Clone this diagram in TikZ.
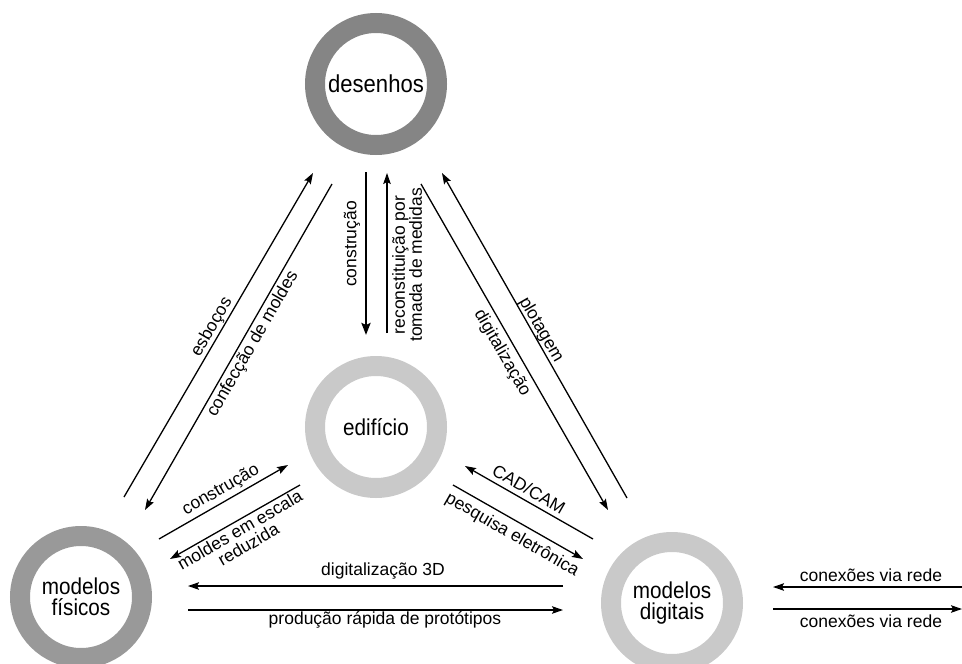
\documentclass[tikz,border=0pt]{standalone}
\usepackage{fontspec}
\setmainfont{Liberation Sans}
\newfontfamily\nodefont[FakeStretch=0.9]{Liberation Sans}
\usetikzlibrary{arrows.meta}
\definecolor{ringdark}{gray}{0.52}
\definecolor{ringmid}{gray}{0.60}
\definecolor{ringlight}{gray}{0.79}
\begin{document}
\begin{tikzpicture}[x=1pt,y=-1pt,
  ring/.style={circle, line width=20pt, minimum size=122pt, inner sep=0pt, align=center,
    font=\nodefont\fontsize{23}{21}\selectfont},
  arr/.style={line width=1.3pt, -{Stealth[length=11pt,width=7.5pt,inset=2pt]}},
  thickarr/.style={line width=2.6pt, -{Stealth[length=12pt,width=9pt,inset=2pt]}},
  lab/.style={font=\fontsize{17.5}{17}\selectfont, inner sep=0pt, align=center},
]
\useasboundingbox (0,0) rectangle (962,664);
% rings
\node[ring, draw=ringdark, font=\nodefont\fontsize{24.5}{22}\selectfont] (des) at (376,84) {desenhos};
\node[ring, draw=ringlight] (edi) at (376,427) {edifício};
\node[ring, draw=ringmid] (fis) at (81,597) {modelos\\físicos};
\node[ring, draw=ringlight] (dig) at (672,603) {modelos\\digitais};
% coordinates
\coordinate (esA) at (124,497); \coordinate (esB) at (313,173);
\coordinate (cmA) at (332,184); \coordinate (cmB) at (145,510);
\coordinate (coA) at (366,172); \coordinate (coB) at (366,335);
\coordinate (reA) at (387,333); \coordinate (reB) at (387,173);
\coordinate (plA) at (627,498); \coordinate (plB) at (442,173);
\coordinate (diA) at (421,184); \coordinate (diB) at (608,510);
\coordinate (c2A) at (159,539); \coordinate (c2B) at (288,465);
\coordinate (moA) at (300,485); \coordinate (moB) at (170,559);
\coordinate (caA) at (593,539); \coordinate (caB) at (465,466);
\coordinate (peA) at (453,485); \coordinate (peB) at (583,559);
\coordinate (d3A) at (563,586); \coordinate (d3B) at (188,586);
\coordinate (prA) at (188,610); \coordinate (prB) at (563,610);
\coordinate (n1A) at (962,587); \coordinate (n1B) at (773,587);
\coordinate (n2A) at (773,609); \coordinate (n2B) at (962,609);
% connectors
\draw[arr] (esA) -- (esB);
\draw[arr] (cmA) -- (cmB);
\draw[thickarr] (coA) -- (coB);
\draw[arr] (reA) -- (reB);
\draw[arr] (plA) -- (plB);
\draw[arr] (diA) -- (diB);
\draw[arr] (c2A) -- (c2B);
\draw[arr] (moA) -- (moB);
\draw[arr] (caA) -- (caB);
\draw[arr] (peA) -- (peB);
\draw[arr] (d3A) -- (d3B);
\draw[arr] (prA) -- (prB);
\draw[arr] (n1A) -- (n1B);
\draw[arr] (n2A) -- (n2B);
% labels
\node[lab, rotate=60] (l1) at (212,327) {esboços};
\node[lab, rotate=60] (l2) at (253,344) {confecção de moldes};
\node[lab, rotate=90] (l3) at (352,244) {construção};
\node[lab, rotate=90] (l4) at (407,265) {reconstituição por\\tomada de medidas};
\node[lab, rotate=-60] (l5) at (541,330) {plotagem};
\node[lab, rotate=-60] (l6) at (502,353) {digitalização};
\node[lab, rotate=30] (l7) at (221,490) {construção};
\node[lab, rotate=30] (l8) at (244,537) {moldes em escala\\reduzida};
\node[lab, rotate=-30] (l9) at (529,489) {CAD/CAM};
\node[lab, rotate=-30] (l10) at (512,535) {pesquisa eletrônica};
\node[lab] (l11) at (383,571) {digitalização 3D};
\node[lab] (l12) at (385,620) {produção rápida de protótipos};
\node[lab] (l13) at (871,575) {conexões via rede};
\node[lab] (l14) at (871,621) {conexões via rede};
\end{tikzpicture}
\end{document}
